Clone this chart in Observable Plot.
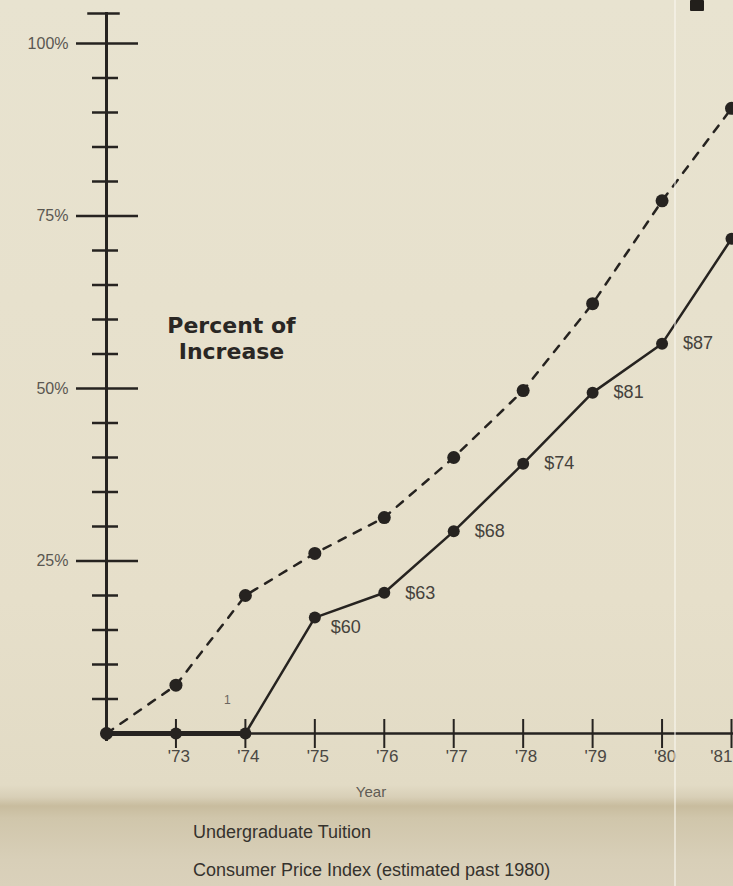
<!DOCTYPE html>
<html>
<head>
<meta charset="utf-8">
<script src="https://cdn.jsdelivr.net/npm/d3@7"></script>
<script src="https://cdn.jsdelivr.net/npm/@observablehq/plot@0.6"></script>
<style>
  html, body { margin: 0; padding: 0; width: 733px; height: 886px; overflow: hidden; }
  body {
    position: relative;
    background: linear-gradient(to bottom, #e8e3d0 0px, #e6dfca 600px, #e2dbc5 785px, #d8cfb7 797px, #c8bc9e 806px, #d0c6ab 818px, #d8cfb8 860px, #dad1bb 886px);
    font-family: "Liberation Sans", Arial, sans-serif;
  }
  #chart { position: absolute; left: 0; top: 0; }
  .legend { position: absolute; left: 193px; font-size: 18px; line-height: 18px; color: #35322d; white-space: nowrap; }
  .fold { position: absolute; left: 674px; top: 0; width: 2px; height: 886px; background: rgba(250,248,240,0.55); }
  .blot { position: absolute; left: 690px; top: 0; width: 14px; height: 11px; background: #221f1b; border-radius: 1px; }
</style>
</head>
<body>
<div id="chart"></div>
<div class="legend" style="top:823px">Undergraduate Tuition</div>
<div class="legend" style="top:861px">Consumer Price Index (estimated past 1980)</div>
<div class="fold"></div>
<div class="blot"></div>
<script>
// ---- data ----
const years = [1972, 1973, 1974, 1975, 1976, 1977, 1978, 1979, 1980, 1981];
const tuitionPct = [0, 0, 0, 16.8, 20.4, 29.3, 39.1, 49.4, 56.5, 71.7];
const cpiPct = [0, 7.0, 20.0, 26.1, 31.3, 40.0, 49.7, 62.3, 77.2, 90.6];
const tuitionLabels = ["", "", "", "$60", "$63", "$68", "$74", "$81", "$87", ""];
const yearTickLabels = ["", "'73", "'74", "'75", "'76", "'77", "'78", "'79", "'80", "'81"];
const majorTicks = [25, 50, 75, 100];
const majorTickLabels = ["25%", "50%", "75%", "100%"];
const minorTicks = [5, 10, 15, 20, 30, 35, 40, 45, 55, 60, 65, 70, 80, 85, 90, 95];

const tuition = years.map((year, i) => ({year, pct: tuitionPct[i], label: tuitionLabels[i]}));
const cpi = years.map((year, i) => ({year, pct: cpiPct[i]}));
const yearTicks = years.map((year, i) => ({year, label: yearTickLabels[i]})).filter(d => d.label);
const lastYear = yearTicks[yearTicks.length - 1];
const majors = majorTicks.map((v, i) => ({v, label: majorTickLabels[i]}));

const ink = "#262320";
const W = 733, H = 800;

const plot = Plot.plot({
  width: W,
  height: H,
  marginLeft: 106,
  marginRight: 2,
  marginTop: 43,
  marginBottom: 67,
  style: {background: "none", overflow: "visible", fontFamily: "Liberation Sans, Arial, sans-serif"},
  x: {domain: [1972, 1981], axis: null},
  y: {domain: [0, 100], axis: null},
  marks: [
    // y axis line and top cap
    Plot.frame({anchor: "left", stroke: ink, strokeWidth: 3, insetTop: -30, insetBottom: -6}),
    Plot.frame({anchor: "top", stroke: ink, strokeWidth: 2.5, insetTop: -30, insetLeft: -18, insetRight: 613}),
    // x axis line
    Plot.frame({anchor: "bottom", stroke: ink, strokeWidth: 2.5, insetRight: -5}),
    // y ticks
    Plot.ruleY(majors, {y: "v", stroke: ink, strokeWidth: 2.5, insetLeft: -30, insetRight: 593}),
    Plot.ruleY(minorTicks, {stroke: ink, strokeWidth: 2.5, insetLeft: -14, insetRight: 613}),
    Plot.text(majors, {y: "v", text: "label", frameAnchor: "left", textAnchor: "end", dx: -38, fontSize: 16, fill: "#5a5751"}),
    // x ticks
    Plot.ruleX(yearTicks, {x: "year", stroke: ink, strokeWidth: 2, insetTop: 676, insetBottom: -15}),
    Plot.text(yearTicks.slice(0, -1), {x: "year", text: "label", frameAnchor: "bottom", dy: 28, dx: 3, fontSize: 17, fill: "#4a4742"}),
    Plot.text([lastYear], {x: "year", text: "label", frameAnchor: "bottom", textAnchor: "end", dy: 28, dx: 1, fontSize: 17, fill: "#4a4742"}),
    Plot.text(["Year"], {frameAnchor: "bottom", dx: -48, dy: 63, fontSize: 15, fill: "#5f5b54"}),
    // stray mark near '74
    Plot.text([1974], {x: d => d, text: () => "1", frameAnchor: "bottom", dx: -18, dy: -30, fontSize: 12, fill: "#6a665e"}),
    // axis title
    Plot.text(["Percent of\nIncrease"], {frameAnchor: "top-left", textAnchor: "middle", dx: 125, dy: 294, lineAnchor: "middle", lineHeight: 1.17, fontSize: 22, fontWeight: "bold", fontFamily: "DejaVu Sans", fill: "#2a2724"}),
    // CPI (dashed)
    Plot.line(cpi, {x: "year", y: "pct", stroke: ink, strokeWidth: 2.5, strokeDasharray: "8,9"}),
    Plot.dot(cpi, {x: "year", y: "pct", r: 6.5, fill: ink, stroke: "none"}),
    // Tuition (solid)
    Plot.line(tuition, {x: "year", y: "pct", stroke: ink, strokeWidth: 2.5}),
    Plot.line(tuition.slice(0, 3), {x: "year", y: "pct", stroke: ink, strokeWidth: 5}),
    Plot.dot(tuition, {x: "year", y: "pct", r: 6, fill: ink, stroke: "none"}),
    Plot.text(tuition.filter(d => d.label === "$60"), {x: "year", y: "pct", text: "label", textAnchor: "start", dx: 16, dy: 10, fontSize: 18, fill: "#45423c"}),
    Plot.text(tuition.filter(d => d.label && d.label !== "$60"), {x: "year", y: "pct", text: "label", textAnchor: "start", dx: 21, dy: 0, fontSize: 18, fill: "#45423c"})
  ]
});
document.getElementById("chart").appendChild(plot);
</script>
</body>
</html>
